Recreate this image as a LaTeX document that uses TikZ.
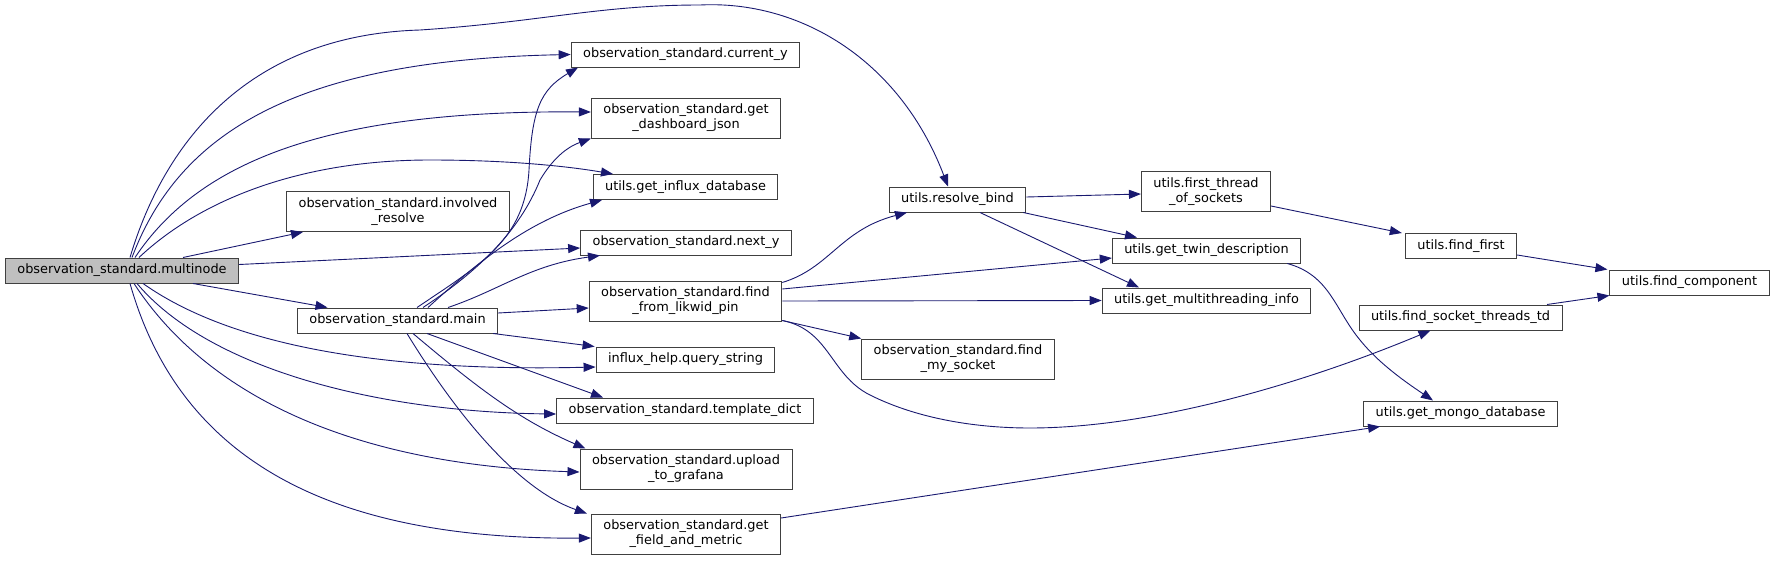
\documentclass[tikz,border=0pt]{standalone}
\usepackage{fontspec}
\setmainfont{DejaVu Sans}
\usepackage{tikz}
\usetikzlibrary{arrows.meta, calc}
\definecolor{callEdge}{HTML}{191970}
\definecolor{nodeLine}{HTML}{404040}
\definecolor{rootFill}{HTML}{BFBFBF}

\begin{document}
\begin{tikzpicture}[x=1pt, y=-1pt,
    fn/.style={rectangle, draw=nodeLine, line width=1pt, fill=white, inner xsep=12pt, inner ysep=2pt,
      minimum height=25pt, font=\fontsize{12.9}{15}\selectfont, align=center},
    fn2/.style={fn, minimum height=40pt},
    arr/.style={-{Triangle[length=12pt, width=9pt]}, line width=0.9pt, draw=callEdge, fill=none}
  ]
  \useasboundingbox (0,0) rectangle (1775,560);
  % nodes
  \node[fn, fill=rootFill] (mn) at (122,270.5) {observation\_standard.multinode};
  \node[fn] (cy) at (685.5,54.5) {observation\_standard.current\_y};
  \node[fn2] (dj) at (686,118) {observation\_standard.get\\\_dashboard\_json};
  \node[fn] (gid) at (685.5,187) {utils.get\_influx\_database};
  \node[fn2] (ir) at (398,211.5) {observation\_standard.involved\\\_resolve};
  \node[fn] (ny) at (686,242.5) {observation\_standard.next\_y};
  \node[fn] (main) at (397.5,320.5) {observation\_standard.main};
  \node[fn2] (ff) at (685.5,301) {observation\_standard.find\\\_from\_likwid\_pin};
  \node[fn] (qs) at (685.5,359.5) {influx\_help.query\_string};
  \node[fn] (td) at (685,410.5) {observation\_standard.template\_dict};
  \node[fn2] (ug) at (686,469) {observation\_standard.upload\\\_to\_grafana};
  \node[fn2] (fm) at (686,534) {observation\_standard.get\\\_field\_and\_metric};
  \node[fn] (rb) at (957.5,199.5) {utils.resolve\_bind};
  \node[fn2] (ft) at (1206,191.5) {utils.first\_thread\\\_of\_sockets};
  \node[fn] (tw) at (1206.5,250.5) {utils.get\_twin\_description};
  \node[fn] (mt) at (1206.5,300.5) {utils.get\_multithreading\_info};
  \node[fn2] (fms) at (958,359) {observation\_standard.find\\\_my\_socket};
  \node[fn] (ffirst) at (1461,246) {utils.find\_first};
  \node[fn] (fc) at (1689.5,282.5) {utils.find\_component};
  \node[fn] (fst) at (1460.5,317.5) {utils.find\_socket\_threads\_td};
  \node[fn] (mongo) at (1460.5,413.5) {utils.get\_mongo\_database};

  % calls from multinode
  \draw[arr] ([xshift=8]mn.north) .. controls (165,140) and (250,35) .. (420,30)
    .. controls (540,22) and (600,5) .. (700,5)
    .. controls (800,0) and (900,60) .. ([xshift=-9.5]rb.north);
  \draw[arr] ([xshift=10]mn.north) .. controls (180,130) and (300,60) .. (cy.west);
  \draw[arr] ([xshift=13]mn.north) .. controls (200,160) and (330,110) .. ([yshift=6]dj.west);
  \draw[arr] ([xshift=17]mn.north) .. controls (200,200) and (300,160) .. (430,160)
    .. controls (500,160) and (560,165) .. ([xshift=-72.5]gid.north);
  \draw[arr] ([xshift=61]mn.north) -- ([xshift=-95]ir.south);
  \draw[arr] ([yshift=6]mn.east) -- ([yshift=-5.5]ny.west);
  \draw[arr] ([xshift=71]mn.south) -- ([xshift=-70]main.north);
  \draw[arr] ([xshift=21]mn.south) .. controls (230,345) and (380,372) .. ([yshift=-7.5]qs.west);
  \draw[arr] ([xshift=15]mn.south) .. controls (210,370) and (380,412) .. ([yshift=-3.5]td.west);
  \draw[arr] ([xshift=12]mn.south) .. controls (210,400) and (360,465) .. ([yshift=-3]ug.west);
  \draw[arr] ([xshift=8]mn.south) .. controls (180,460) and (330,540) .. ([yshift=-4]fm.west);

  % calls from main
  \draw[arr] ([xshift=19.5]main.north) .. controls (480,265) and (525,240) .. (529,170)
    .. controls (532,110) and (540,90) .. ([xshift=-107.5]cy.south);
  \draw[arr] ([xshift=25.5]main.north) .. controls (480,270) and (520,230) .. (540,180)
    .. controls (555,155) and (570,146) .. (dj.south west);
  \draw[arr] ([xshift=30.5]main.north) .. controls (480,260) and (530,220) .. ([xshift=-83.5]gid.south);
  \draw[arr] ([xshift=50.5]main.north) .. controls (500,290) and (530,265) .. ([xshift=-86]ny.south);
  \draw[arr] ([yshift=7.5]main.east) -- ([yshift=-7]ff.west);
  \draw[arr] ([xshift=-5]main.south east) -- ([xshift=-1]qs.north west);
  \draw[arr] ([xshift=29.5]main.south) -- ([xshift=-82]td.north);
  \draw[arr] ([xshift=15.5]main.south) .. controls (480,390) and (520,420) .. ([xshift=6]ug.north west);
  \draw[arr] ([xshift=9.5]main.south) .. controls (460,420) and (520,490) .. ([xshift=-4]fm.north west);

  % calls from find_from_likwid_pin
  \draw[arr] ([yshift=-2]ff.north east) .. controls (830,268) and (840,230) .. ([xshift=-50.5]rb.south);
  \draw[arr] ([yshift=12]ff.east) -- ([yshift=-7.5]tw.west);
  \draw[arr] (ff.east) -- (mt.west);
  \draw[arr] ([yshift=1]ff.south east) -- (fms.north west);
  \draw[arr] ([yshift=1]ff.south east) .. controls (830,330) and (830,375) .. (870,395)
    .. controls (920,420) and (980,428) .. (1030,428)
    .. controls (1150,428) and (1300,385) .. ([xshift=-30]fst.south);

  % calls from resolve_bind
  \draw[arr] ([yshift=2.5]rb.east) -- ([yshift=-2.5]ft.west);
  \draw[arr] ([xshift=-3]rb.south east) -- ([xshift=-69.5]tw.north);
  \draw[arr] ([xshift=22.5]rb.south) -- ([xshift=-67.5]mt.north);

  % remaining calls
  \draw[arr] ([yshift=-14.5]ft.east) -- ([xshift=-3]ffirst.north west);
  \draw[arr] ([yshift=-9]ffirst.east) -- ([xshift=-2]fc.north west);
  \draw[arr] ([xshift=86.5]fst.north) -- (fc.south west);
  \draw[arr] ([xshift=-14]tw.south east) .. controls (1330,275) and (1335,310) .. (1360,340)
    .. controls (1380,365) and (1410,385) .. ([xshift=-27.5]mongo.north);
  \draw[arr] ([yshift=16]fm.east) -- ([xshift=17]mongo.south west);
\end{tikzpicture}
\end{document}
